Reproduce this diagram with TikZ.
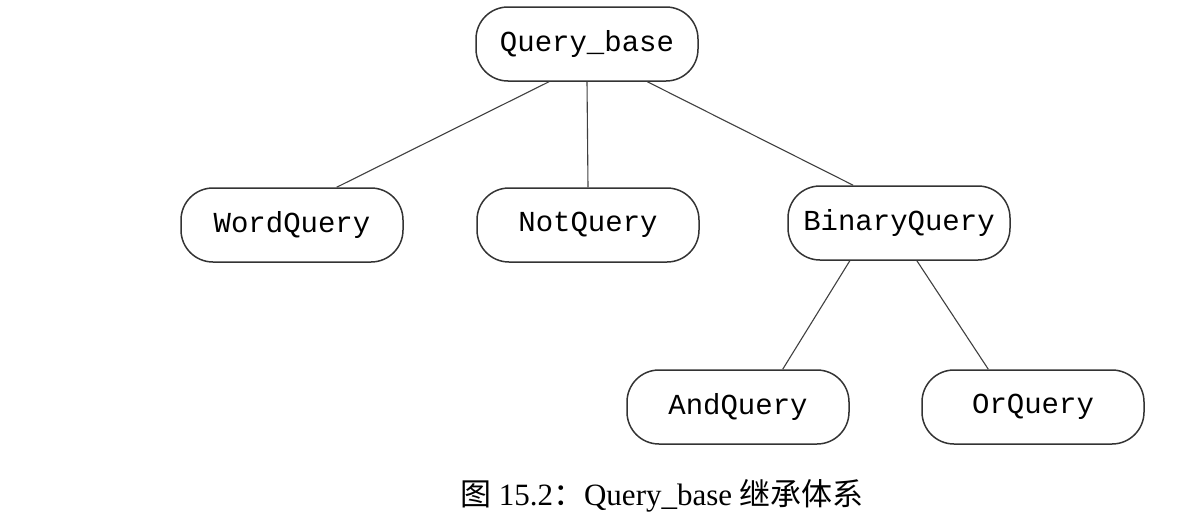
\documentclass[tikz,border=0pt]{standalone}
\usepackage{fontspec}
\setmainfont{Liberation Serif}
\setmonofont{Liberation Mono}
\newfontfamily\cjk{Noto Sans CJK SC}
\usetikzlibrary{calc}
\begin{document}
\begin{tikzpicture}[x=1pt,y=-1pt,
  cls/.style={draw=black!80, line width=1.5pt, rounded corners=32pt,
    minimum width=222pt, minimum height=74pt, inner sep=0pt,
    font=\fontsize{29}{32}\selectfont\ttfamily},
  link/.style={draw=black!75, line width=1.1pt},
  captext/.style={font=\fontsize{31}{34}\selectfont, inner sep=0pt}]
\useasboundingbox (0,0) rectangle (1196,522);
\node[cls] (qb) at (587,44) {Query\_base};
\node[cls] (wq) at (292,225) {WordQuery};
\node[cls] (nq) at (588,225) {NotQuery};
\node[cls] (bq) at (899,223) {BinaryQuery};
\node[cls] (aq) at (738,407) {AndQuery};
\node[cls] (oq) at (1033,407) {OrQuery};
\draw[link] ($(qb.south west)!0.33!(qb.south east)$) -- ($(wq.north west)!0.70!(wq.north east)$);
\draw[link] (qb.south) -- (nq.north);
\draw[link] ($(qb.south west)!0.77!(qb.south east)$) -- ($(bq.north west)!0.295!(bq.north east)$);
\draw[link] ($(bq.south west)!0.28!(bq.south east)$) -- ($(aq.north west)!0.70!(aq.north east)$);
\draw[link] ($(bq.south west)!0.58!(bq.south east)$) -- ($(oq.north west)!0.30!(oq.north east)$);
\node[captext] (cap) at (662,496) {{\cjk 图} 15.2{\cjk ：}Query\_base {\cjk 继承体系}};
\end{tikzpicture}
\end{document}
